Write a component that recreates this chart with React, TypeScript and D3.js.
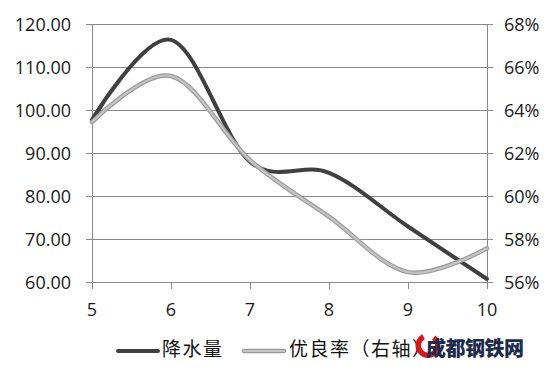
import React from "react";
import * as d3 from "d3";

const months = [5, 6, 7, 8, 9, 10];
const rainfall = [97.7, 116.3, 88.0, 85.4, 72.9, 60.7];
const goodRate = [0.6344, 0.6558, 0.6167, 0.5904, 0.5646, 0.5757];
const leftTicks = [60, 70, 80, 90, 100, 110, 120];
const rightTicks = [0.56, 0.58, 0.6, 0.62, 0.64, 0.66, 0.68];
const seriesNames = ["降水量", "优良率（右轴）"];
const watermark = "成都钢铁网";

const W = 554;
const H = 371;
const L = 92, R = 487, T = 24, B = 282;
const NUM_FONT = "'Open Sans', 'DejaVu Sans', sans-serif";
const CJK_FONT = "'Noto Sans CJK SC', 'Noto Sans', sans-serif";
const GRID = "#8a8a8a";

export default function App() {
  const x = d3.scalePoint<number>().domain(months).range([L, R]);
  const yL = d3.scaleLinear().domain([60, 120]).range([B, T]);
  const yR = d3.scaleLinear().domain([0.56, 0.68]).range([B, T]);
  const curve = d3.curveCardinal.tension(0);
  const lineL = d3
    .line<number>()
    .x((_, i) => x(months[i]) as number)
    .y((d) => yL(d))
    .curve(curve);
  const lineR = d3
    .line<number>()
    .x((_, i) => x(months[i]) as number)
    .y((d) => yR(d))
    .curve(curve);
  const pathL = lineL(rainfall) || "";
  const pathR = lineR(goodRate) || "";

  const arc = d3
    .arc()
    .innerRadius(7)
    .outerRadius(12.5)
    .startAngle(Math.PI * 0.2)
    .endAngle(Math.PI * 1.85);

  return (
    <svg
      width={W}
      height={H}
      style={{ position: "absolute", left: 0, top: 0, background: "#fff" }}
    >
      <rect x={0} y={0} width={W} height={H} fill="#fff" />
      {leftTicks.map((t) => (
        <g key={"g" + t}>
          <line x1={L - 6} x2={R + 6} y1={yL(t)} y2={yL(t)} stroke={GRID} strokeWidth={1} shapeRendering="crispEdges" />
          <text x={71} y={yL(t)} textAnchor="end" dominantBaseline="central" fontFamily={NUM_FONT} fontSize={18} fill="#1a1a1a">
            {t.toFixed(2)}
          </text>
        </g>
      ))}
      {rightTicks.map((t) => (
        <text key={"r" + t} x={504} y={yR(t)} textAnchor="start" dominantBaseline="central" fontFamily={NUM_FONT} fontSize={18} fill="#1a1a1a">
          {Math.round(t * 100) + "%"}
        </text>
      ))}
      <line x1={L} x2={L} y1={T} y2={B} stroke={GRID} strokeWidth={1} shapeRendering="crispEdges" />
      <line x1={R} x2={R} y1={T} y2={B} stroke={GRID} strokeWidth={1} shapeRendering="crispEdges" />
      {months.map((m) => (
        <g key={"m" + m}>
          <line x1={x(m)} x2={x(m)} y1={B} y2={B + 7} stroke={GRID} strokeWidth={1} shapeRendering="crispEdges" />
          <text x={x(m)} y={316} textAnchor="middle" fontFamily={NUM_FONT} fontSize={18} fill="#1a1a1a">
            {m}
          </text>
        </g>
      ))}
      <path d={pathL} fill="none" stroke="#404040" strokeWidth={4} strokeLinecap="round" />
      <path d={pathR} fill="none" stroke="#9a9a9a" strokeWidth={4.5} strokeLinecap="round" />
      <path d={pathR} fill="none" stroke="#c4c4c4" strokeWidth={2.2} strokeLinecap="round" />

      {/* legend */}
      <line x1={118} x2={158} y1={351} y2={351} stroke="#404040" strokeWidth={4} strokeLinecap="round" />
      <text x={162} y={347} dominantBaseline="central" fontFamily={CJK_FONT} fontSize={19} letterSpacing={1.5} fill="#111">
        {seriesNames[0]}
      </text>
      <line x1={244} x2={284} y1={351} y2={351} stroke="#9a9a9a" strokeWidth={4.5} strokeLinecap="round" />
      <line x1={244} x2={284} y1={351} y2={351} stroke="#c4c4c4" strokeWidth={2.2} strokeLinecap="round" />
      <text x={289} y={347} dominantBaseline="central" fontFamily={CJK_FONT} fontSize={19} letterSpacing={1.5} fill="#111">
        {seriesNames[1]}
      </text>

      {/* watermark */}
      <rect x={422} y={334} width={104} height={24} fill="#fff" opacity={0.85} />
      <path d={arc({} as any) || ""} transform="translate(428,345.5)" fill="#d4181f" />
      <text x={426} y={347} dominantBaseline="central" fontFamily={CJK_FONT} fontSize={20} fontWeight={900} letterSpacing={-0.5} fill="#1d2b4c">
        {watermark}
      </text>
    </svg>
  );
}
